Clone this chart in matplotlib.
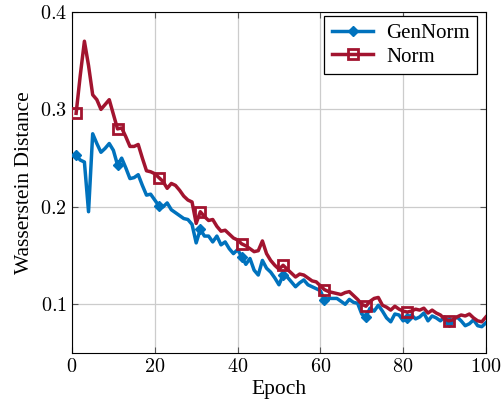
import numpy as np
import matplotlib.pyplot as plt
from matplotlib.ticker import FuncFormatter

epochs = np.arange(1, 101)

norm = [0.296, 0.335, 0.370, 0.345, 0.315, 0.310, 0.300, 0.305, 0.310, 0.295,
        0.280, 0.281, 0.272, 0.262, 0.262, 0.264, 0.250, 0.237, 0.236, 0.234,
        0.230, 0.226, 0.219, 0.224, 0.222, 0.217, 0.211, 0.207, 0.205, 0.183,
        0.195, 0.190, 0.186, 0.187, 0.180, 0.175, 0.176, 0.172, 0.168, 0.166,
        0.162, 0.160, 0.157, 0.154, 0.155, 0.165, 0.152, 0.145, 0.140, 0.136,
        0.140, 0.136, 0.132, 0.128, 0.131, 0.130, 0.127, 0.124, 0.123, 0.119,
        0.115, 0.113, 0.112, 0.111, 0.110, 0.112, 0.113, 0.109, 0.105, 0.100,
        0.098, 0.103, 0.106, 0.107, 0.099, 0.097, 0.094, 0.098, 0.095, 0.093,
        0.092, 0.093, 0.095, 0.094, 0.096, 0.091, 0.094, 0.091, 0.089, 0.085,
        0.083, 0.084, 0.087, 0.089, 0.088, 0.090, 0.086, 0.083, 0.082, 0.087]

gennorm = [0.253, 0.248, 0.246, 0.195, 0.275, 0.265, 0.256, 0.260, 0.265, 0.258,
           0.243, 0.250, 0.240, 0.229, 0.230, 0.233, 0.222, 0.212, 0.213, 0.207,
           0.201, 0.200, 0.204, 0.197, 0.194, 0.191, 0.188, 0.187, 0.182, 0.163,
           0.177, 0.170, 0.170, 0.164, 0.170, 0.161, 0.164, 0.157, 0.152, 0.156,
           0.149, 0.141, 0.147, 0.135, 0.130, 0.145, 0.137, 0.133, 0.127, 0.120,
           0.130, 0.128, 0.123, 0.118, 0.122, 0.125, 0.120, 0.118, 0.116, 0.114,
           0.104, 0.106, 0.106, 0.106, 0.103, 0.100, 0.105, 0.102, 0.101, 0.090,
           0.087, 0.096, 0.093, 0.099, 0.093, 0.086, 0.082, 0.090, 0.089, 0.083,
           0.086, 0.089, 0.085, 0.087, 0.091, 0.083, 0.088, 0.086, 0.083, 0.087,
           0.082, 0.084, 0.087, 0.083, 0.078, 0.080, 0.084, 0.078, 0.077, 0.081]

xticks = [0, 20, 40, 60, 80, 100]
yticks = [0.1, 0.2, 0.3, 0.4]

plt.rcParams['font.family'] = ['Liberation Serif', 'DejaVu Serif']
plt.rcParams['mathtext.fontset'] = 'cm'

fig = plt.figure(figsize=(5.02, 4.13), dpi=100)
ax = fig.add_axes([0.1434, 0.1453, 0.8246, 0.8257])

blue = '#0072BD'
red = '#A2142F'

ax.plot(epochs, gennorm, color=blue, lw=2.5, marker='D', ms=5,
        markevery=(0, 10), label='GenNorm', zorder=3)
ax.plot(epochs, norm, color=red, lw=2.5, marker='s', ms=6.5, mfc='none',
        mew=2.0, markevery=(0, 10), label='Norm', zorder=3)

ax.set_xlim(0, 100)
ax.set_ylim(0.05, 0.4)
ax.set_xticks(xticks)
ax.set_yticks(yticks)
ax.xaxis.set_major_formatter(FuncFormatter(lambda v, p: r'$%g$' % v))
ax.yaxis.set_major_formatter(FuncFormatter(lambda v, p: r'$%g$' % v))
ax.tick_params(direction='in', top=True, right=True, labelsize=14.5, length=4,
               color='#555555')
ax.grid(True, color='#cccccc', lw=0.9)
ax.set_axisbelow(True)

ax.set_xlabel('Epoch', fontsize=15.5, labelpad=2)
ax.set_ylabel('Wasserstein Distance', fontsize=15.5, labelpad=4)

leg = ax.legend(loc='upper right', fontsize=15, fancybox=False, framealpha=1,
                edgecolor='black', handlelength=2.0, borderpad=0.35,
                labelspacing=0.2, handletextpad=0.6, borderaxespad=0,
                bbox_to_anchor=(0.978, 0.988))
leg.get_frame().set_linewidth(0.9)

fig.savefig('out.png', dpi=100)
